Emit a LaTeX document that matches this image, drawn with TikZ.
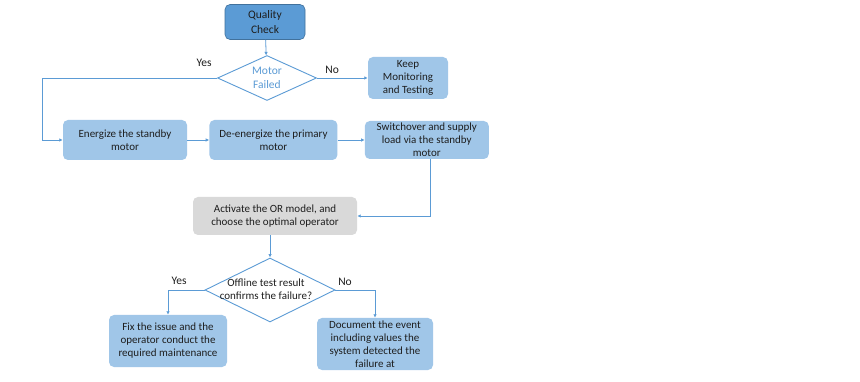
\documentclass[tikz,border=0pt]{standalone}
\usepackage{fontspec}
\setmainfont{Carlito}
\usetikzlibrary{positioning,shapes.geometric,arrows.meta}
\definecolor{qcblue}{RGB}{91,155,213}
\definecolor{qcedge}{RGB}{65,113,156}
\definecolor{stepfill}{RGB}{160,198,232}
\definecolor{flowline}{RGB}{91,155,213}
\definecolor{orgray}{RGB}{217,217,217}
\definecolor{txt}{RGB}{30,30,30}

\tikzset{
  box/.style={rectangle, rounded corners=5pt, fill=stepfill, draw=none, align=center,
    text=txt, font=\fontsize{11}{13}\selectfont, inner sep=2pt},
  decision/.style={diamond, draw=flowline, line width=0.9pt, fill=white, inner sep=0pt},
  flow/.style={-{Latex[length=3.5pt,width=3.5pt]}, draw=flowline, line width=0.8pt},
  answer/.style={font=\fontsize{11.5}{13}\selectfont, text=txt}
}

\begin{document}
\begin{tikzpicture}[x=1pt,y=-1pt]
        \useasboundingbox[fill=white] (0,0) rectangle (860,382);

        \node[box, fill=qcblue, draw=qcedge, line width=0.6pt, minimum width=80pt, minimum height=35pt,
              font=\fontsize{11.5}{15}\selectfont] (qc) at (265,22) {Quality\\Check};
        \node[decision, minimum width=99pt, minimum height=45pt] (motor) at (267,78) {};
        \node[font=\fontsize{11.5}{14}\selectfont, text=qcblue, align=center] (motortxt) at (motor) {Motor\\Failed};
        \node[box, minimum width=80pt, minimum height=42pt] (keep) at (408,78) {Keep\\Monitoring\\and Testing};

        \node[box, minimum width=124pt, minimum height=40pt] (energize) at (125,140) {Energize the standby\\motor};
        \node[box, right=22pt of energize, minimum width=128pt, minimum height=40pt] (deenergize) {De-energize the primary\\motor};
        \node[box, right=27pt of deenergize, minimum width=124pt, minimum height=38pt] (switch) {Switchover and supply\\load via the standby\\motor};

        \node[box, fill=orgray, minimum width=164pt, minimum height=38pt] (activate) at (275,216) {Activate the OR model, and\\choose the optimal operator};
        \node[decision, minimum width=130pt, minimum height=64pt] (test) at (270,290) {};
        \node[font=\fontsize{11}{13}\selectfont, text=txt, align=center] (testtxt) at (266,289) {Offline test result\\confirms the failure?};

        \node[box, minimum width=118pt, minimum height=52pt] (fix) at (168,341) {Fix the issue and the\\operator conduct the\\required maintenance};
        \node[box, minimum width=116pt, minimum height=52pt] (doc) at (375,344) {Document the event\\including values the\\system detected the\\failure at};

        % top part
        \draw[flow] (qc) -- (motor);
        \draw[flow] (motor.east) -- node[answer, above=1pt, pos=0.3] (no1) {No} (keep.west);
        \draw[flow] (motor.west) -- ++(-175,0) |- (energize.west);
        \node[answer] (yes1) at (204,63) {Yes};

        % row of actions
        \draw[flow] (energize) -- (deenergize);
        \draw[flow] (deenergize) -- (switch);
        \draw[flow] ([xshift=4pt]switch.south) |- (activate.east);
        \draw[flow] ([xshift=-5pt]activate.south) -- (test.north);

        % offline test
        \draw[flow] (test.west) -| (fix.north);
        \draw[flow] (test.east) -| (doc.north);
        \node[answer] (yes2) at (179,281) {Yes};
        \node[answer] (no2) at (345,282) {No};
    \end{tikzpicture}
\end{document}
